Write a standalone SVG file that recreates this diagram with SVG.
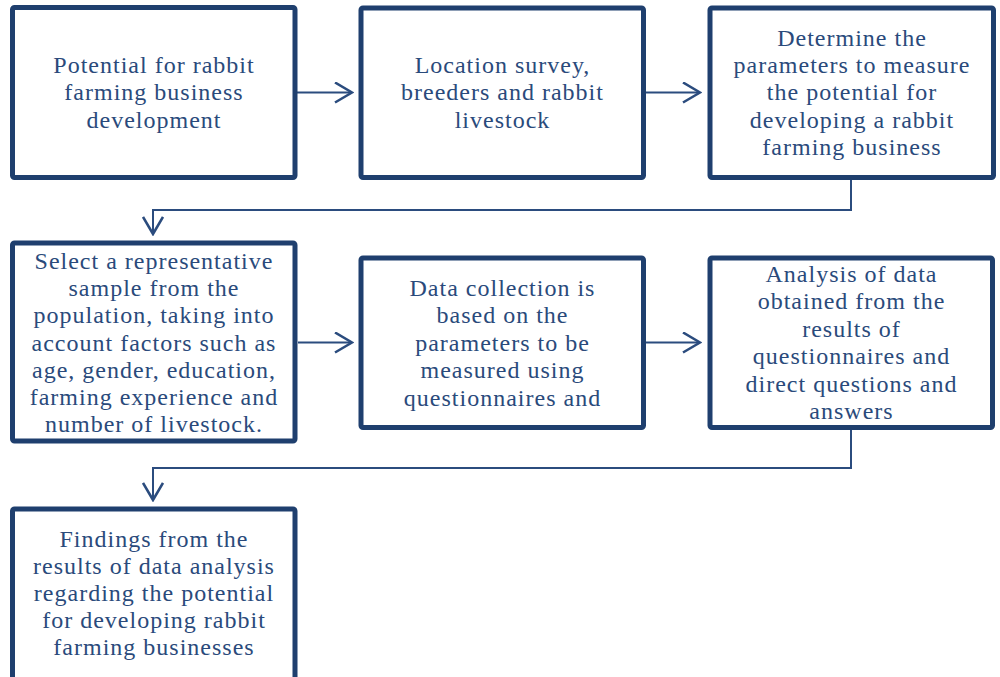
<svg xmlns="http://www.w3.org/2000/svg" width="1000" height="677" viewBox="0 0 1000 677">
<defs>
<style>
.box{fill:#ffffff;stroke:#1f3f6e;stroke-width:5;}
.t{font-family:"Liberation Serif","Times New Roman",serif;font-size:24px;letter-spacing:1px;fill:#2a4a7b;text-anchor:middle;}
.ln{fill:none;stroke:#2b4c7e;stroke-width:2;}
</style>
<marker id="ah" viewBox="0 0 20 22" refX="18" refY="11" markerWidth="20" markerHeight="22" markerUnits="userSpaceOnUse" orient="auto">
<path d="M1,1 L18,11 L1,21" fill="none" stroke="#2b4c7e" stroke-width="2.6"/>
</marker>
</defs>
<rect width="1000" height="677" fill="#ffffff"/>
<g id="connectors">
<path class="ln" d="M297,92.5 H352" marker-end="url(#ah)"/>
<path class="ln" d="M646,92.5 H700" marker-end="url(#ah)"/>
<path class="ln" d="M851,180 V210 H153 V234" marker-end="url(#ah)"/>
<path class="ln" d="M298,342.5 H352" marker-end="url(#ah)"/>
<path class="ln" d="M646,342.5 H700" marker-end="url(#ah)"/>
<path class="ln" d="M851,430 V468 H153 V500" marker-end="url(#ah)"/>
</g>
<g id="node1">
<rect class="box" x="12.5" y="7.5" width="282.5" height="170" rx="2"/>
<text class="t" x="154" y="72.7">Potential for rabbit</text>
<text class="t" x="154" y="100">farming business</text>
<text class="t" x="154" y="127.5">development</text>
</g>
<g id="node2">
<rect class="box" x="361" y="8" width="282.5" height="169.5" rx="2"/>
<text class="t" x="502.5" y="72.7">Location survey,</text>
<text class="t" x="502.5" y="100">breeders and rabbit</text>
<text class="t" x="502.5" y="127.5">livestock</text>
</g>
<g id="node3">
<rect class="box" x="710" y="8" width="283.5" height="169.5" rx="2"/>
<text class="t" x="852" y="45.5">Determine the</text>
<text class="t" x="852" y="73">parameters to measure</text>
<text class="t" x="852" y="100.3">the potential for</text>
<text class="t" x="852" y="127.7">developing a rabbit</text>
<text class="t" x="852" y="155">farming business</text>
</g>
<g id="node4">
<rect class="box" x="12.5" y="243" width="282.5" height="198" rx="2"/>
<text class="t" x="154" y="269.3">Select a representative</text>
<text class="t" x="154" y="296.4">sample from the</text>
<text class="t" x="154" y="323.4">population, taking into</text>
<text class="t" x="154" y="350.5">account factors such as</text>
<text class="t" x="154" y="377.6">age, gender, education,</text>
<text class="t" x="154" y="404.6">farming experience and</text>
<text class="t" x="154" y="431.7">number of livestock.</text>
</g>
<g id="node5">
<rect class="box" x="361" y="258" width="282.5" height="169.5" rx="2"/>
<text class="t" x="502.5" y="295.5">Data collection is</text>
<text class="t" x="502.5" y="323.3">based on the</text>
<text class="t" x="502.5" y="350.7">parameters to be</text>
<text class="t" x="502.5" y="378.3">measured using</text>
<text class="t" x="502.5" y="406.3">questionnaires and</text>
</g>
<g id="node6">
<rect class="box" x="710" y="258" width="282.5" height="169.5" rx="2"/>
<text class="t" x="851.5" y="281.7">Analysis of data</text>
<text class="t" x="851.5" y="309.2">obtained from the</text>
<text class="t" x="851.5" y="336.7">results of</text>
<text class="t" x="851.5" y="364.2">questionnaires and</text>
<text class="t" x="851.5" y="391.7">direct questions and</text>
<text class="t" x="851.5" y="419.2">answers</text>
</g>
<g id="node7">
<rect class="box" x="12.5" y="509" width="282.5" height="200" rx="2"/>
<text class="t" x="154" y="546.7">Findings from the</text>
<text class="t" x="154" y="573.8">results of data analysis</text>
<text class="t" x="154" y="600.9">regarding the potential</text>
<text class="t" x="154" y="628">for developing rabbit</text>
<text class="t" x="154" y="655">farming businesses</text>
</g>
</svg>
